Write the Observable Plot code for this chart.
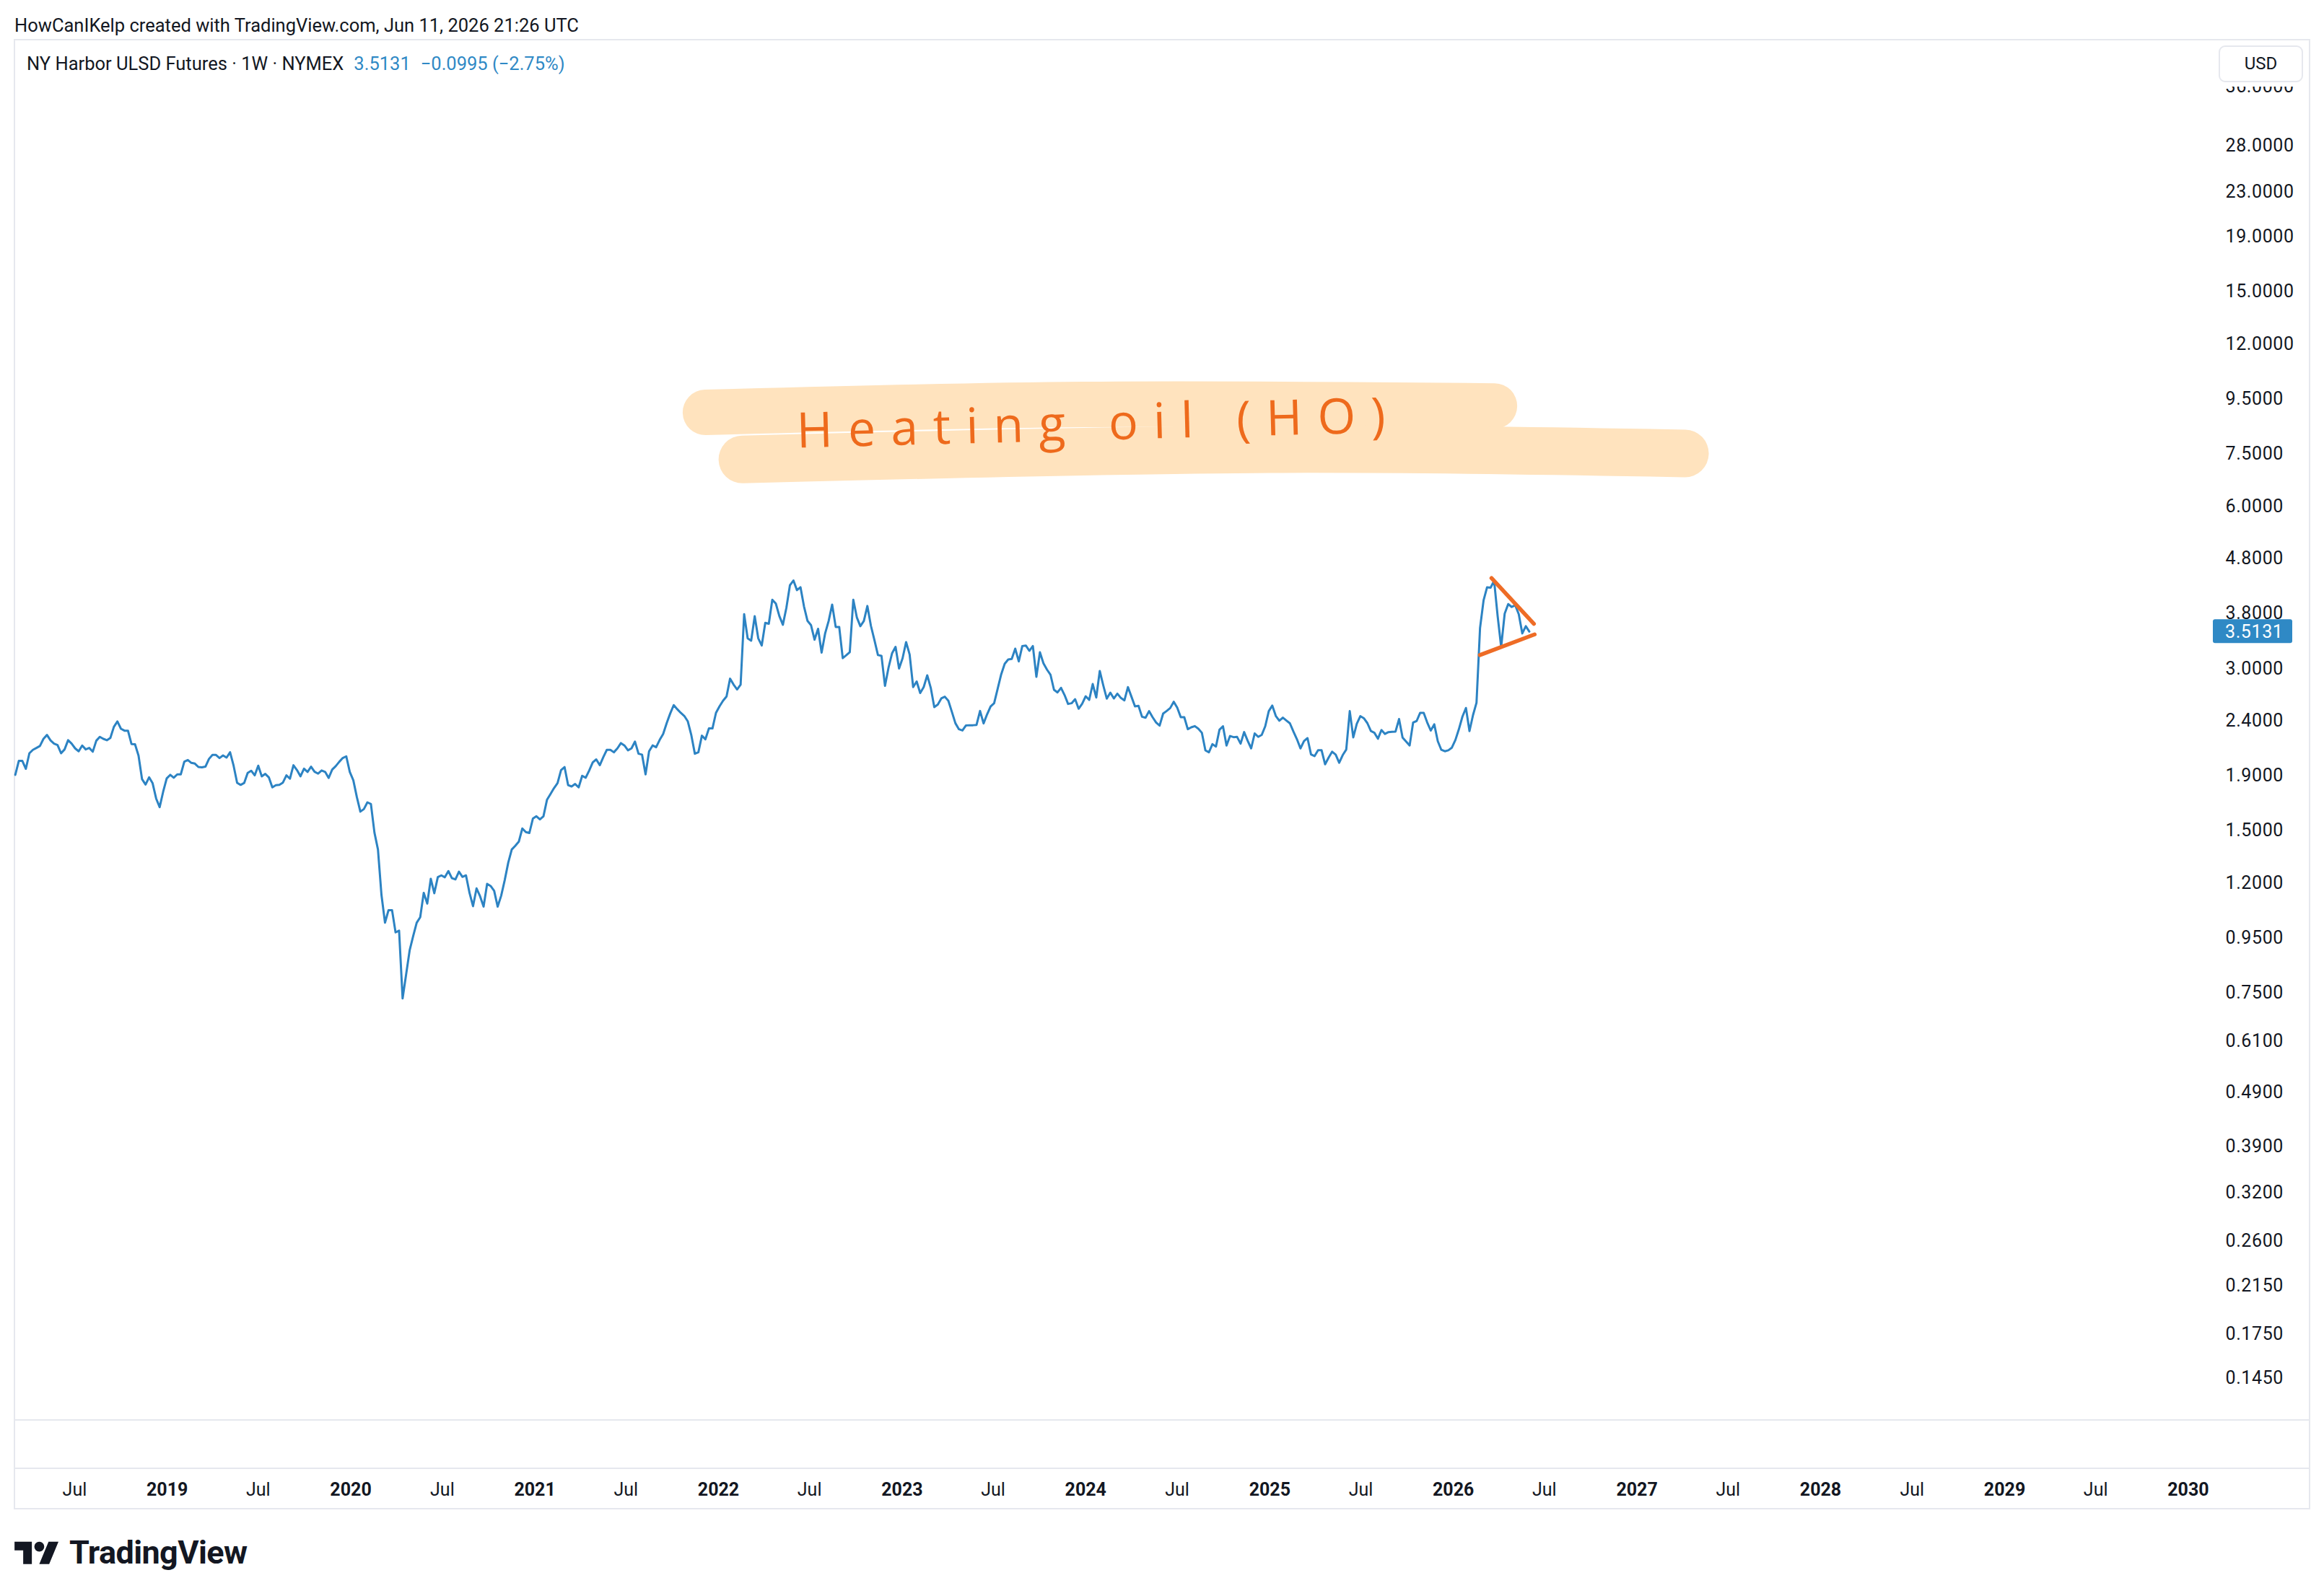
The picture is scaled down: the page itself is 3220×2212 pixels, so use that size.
<!DOCTYPE html>
<html><head><meta charset="utf-8">
<script src="https://cdn.jsdelivr.net/npm/d3@7"></script>
<script src="https://cdn.jsdelivr.net/npm/@observablehq/plot@0.6"></script>
<style>
html,body{margin:0;padding:0;background:#fff;}
body{width:3220px;height:2212px;position:relative;overflow:hidden;font-family:Roboto,"Noto Sans",sans-serif;color:#131722;}
.abs{position:absolute;}
</style></head><body>
<div class="abs" style="left:20px;top:20px;font-size:25.5px;line-height:30px;white-space:nowrap;">HowCanIKelp created with TradingView.com, Jun 11, 2026 21:26 UTC</div>
<div class="abs" style="left:19px;top:54px;width:3182px;height:2038px;border:2px solid #E6E8EE;box-sizing:border-box"></div>
<div class="abs" style="left:20px;top:1967px;width:3180px;height:2px;background:#E6E8EE"></div>
<div class="abs" style="left:20px;top:2034px;width:3180px;height:2px;background:#E6E8EE"></div>
<div id="chart" class="abs" style="left:20px;top:55px;"></div>
<div class="abs" id="legend" style="left:37px;top:73px;font-size:25.5px;line-height:30px;white-space:nowrap;"></div>
<div class="abs" style="left:3062px;top:57px;width:136px;height:63px;background:#fff"></div>
<div class="abs" style="left:3074px;top:63px;width:117px;height:51px;border:2px solid #E6E8EE;border-radius:9px;box-sizing:border-box;background:#fff;font-size:24px;line-height:47px;text-align:center;">USD</div>
<svg class="abs" style="left:20px;top:2130px" width="62" height="48" viewBox="0 0 36 28"><path d="M14 22H7V11H0V4h14v18zM28 22h-8l7.5-18h8L28 22z" fill="#131722"/><circle cx="20" cy="8" r="4" fill="#131722"/></svg>
<div class="abs" style="left:96px;top:2126px;font-size:45px;line-height:52px;font-weight:700;letter-spacing:-0.6px;white-space:nowrap;">TradingView</div>
<script>
// ---- data ----
const symbolName = "NY Harbor ULSD Futures · 1W · NYMEX";
const lastPrice = 3.5131;
const changeText = "−0.0995 (−2.75%)";
const startDate = new Date(Date.UTC(2018, 2, 5)); // first weekly bar
const prices = [
1.905,2.022,2.022,1.955,2.089,2.120,2.137,2.155,2.222,2.259,
2.207,2.177,2.164,2.089,2.124,2.209,2.177,2.133,2.107,2.159,
2.124,2.137,2.103,2.204,2.241,2.222,2.209,2.231,2.339,2.393,
2.320,2.301,2.301,2.173,2.171,2.068,1.870,1.828,1.885,1.838,
1.722,1.660,1.773,1.876,1.905,1.882,1.909,1.909,2.016,2.030,
2.005,1.999,1.970,1.967,1.973,2.039,2.074,2.074,2.047,2.070,
2.051,2.098,1.981,1.841,1.825,1.840,1.921,1.939,1.901,1.981,
1.893,1.913,1.885,1.806,1.823,1.825,1.843,1.901,1.874,1.985,
1.944,1.893,1.956,1.929,1.973,1.930,1.915,1.941,1.929,1.880,
1.948,1.977,2.014,2.047,2.062,1.929,1.862,1.733,1.628,1.646,
1.694,1.682,1.489,1.385,1.140,1.013,1.069,1.069,0.972,0.979,
0.733,0.812,0.900,0.957,1.013,1.037,1.151,1.099,1.222,1.149,
1.231,1.240,1.230,1.263,1.225,1.219,1.260,1.232,1.240,1.151,
1.087,1.173,1.134,1.085,1.196,1.185,1.161,1.085,1.137,1.215,
1.309,1.385,1.407,1.432,1.515,1.492,1.486,1.580,1.596,1.575,
1.596,1.712,1.755,1.800,1.839,1.944,1.969,1.824,1.813,1.832,
1.806,1.897,1.882,1.941,2.009,2.035,1.985,2.055,2.120,2.120,
2.098,2.133,2.182,2.160,2.116,2.133,2.196,2.085,2.077,1.909,
2.107,2.160,2.144,2.211,2.269,2.376,2.476,2.566,2.522,2.483,
2.450,2.394,2.257,2.085,2.098,2.252,2.218,2.323,2.323,2.483,
2.553,2.614,2.663,2.873,2.801,2.744,2.801,3.784,3.412,3.380,
3.753,3.415,3.311,3.647,3.632,4.025,3.960,3.753,3.617,3.891,
4.281,4.370,4.194,4.246,3.911,3.677,3.610,3.394,3.555,3.211,
3.486,3.677,3.943,3.584,3.584,3.136,3.175,3.218,4.025,3.734,
3.595,3.677,3.919,3.602,3.387,3.178,3.168,2.786,3.010,3.201,
3.291,3.001,3.136,3.359,3.185,2.772,2.839,2.702,2.772,2.915,
2.763,2.545,2.572,2.641,2.660,2.614,2.493,2.375,2.315,2.303,
2.353,2.355,2.355,2.358,2.503,2.373,2.467,2.552,2.587,2.751,
2.926,3.062,3.119,3.125,3.266,3.093,3.303,3.310,3.236,3.303,
2.896,3.216,3.068,2.987,2.923,2.740,2.709,2.763,2.679,2.579,
2.587,2.632,2.527,2.581,2.665,2.624,2.808,2.651,2.969,2.791,
2.638,2.706,2.640,2.695,2.646,2.619,2.771,2.660,2.552,2.558,
2.442,2.432,2.501,2.437,2.383,2.351,2.475,2.503,2.534,2.603,
2.539,2.437,2.437,2.315,2.334,2.346,2.320,2.280,2.115,2.098,
2.172,2.150,2.310,2.344,2.159,2.249,2.238,2.240,2.177,2.287,
2.204,2.133,2.274,2.241,2.260,2.345,2.501,2.561,2.450,2.401,
2.433,2.403,2.374,2.292,2.218,2.133,2.200,2.229,2.079,2.064,
2.116,2.116,1.993,2.051,2.103,2.077,2.006,2.073,2.122,2.501,
2.236,2.369,2.448,2.426,2.376,2.297,2.280,2.223,2.307,2.269,
2.287,2.290,2.292,2.418,2.234,2.196,2.160,2.383,2.398,2.483,
2.483,2.383,2.302,2.364,2.200,2.120,2.107,2.116,2.140,2.211,
2.316,2.443,2.535,2.297,2.458,2.593,3.566,4.013,4.246,4.238,
4.366,3.753,3.291,3.793,3.951,3.903,3.931,3.784,3.486,3.595,
3.5131
];
const priceTicks = [0.145,0.175,0.215,0.26,0.32,0.39,0.49,0.61,0.75,0.95,1.2,1.5,1.9,2.4,3.0,3.8,4.8,6.0,7.5,9.5,12,15,19,23,28,36];
const yearTicks = [2019,2020,2021,2022,2023,2024,2025,2026,2027,2028,2029,2030];
const julyTickYears = [2018,2019,2020,2021,2022,2023,2024,2025,2026,2027,2028,2029];
const julyLabel = "Jul";
const xDomain = ["2018-03-04", "2030-03-16"];
const yDomain = [0.1209, 43.97];
// drawings (week offset from startDate, price)
const trendUpperWeeks = [419.25, 431.3], trendUpperPrices = [4.415, 3.632];
const trendLowerWeeks = [415.97, 431.5], trendLowerPrices = [3.178, 3.471];
const bandUpperWeeks = [196.0, 303.3, 420.1], bandUpperPrices = [8.96, 9.27, 9.21];
const bandLowerWeeks = [206.5, 356.7, 474.2], bandLowerPrices = [7.33, 7.66, 7.52];
const noteText = "Heating oil (HO)";
const noteWeek = 221.9, notePrice = 8.24;

// ---- build ----
const wk = k => new Date(startDate.getTime() + k * 7 * 86400000);
const series = prices.map((p, i) => ({date: wk(i), price: p}));
const pts = (ws, ps) => ws.map((w, i) => ({date: wk(w), price: ps[i]}));
const trendUpper = pts(trendUpperWeeks, trendUpperPrices);
const trendLower = pts(trendLowerWeeks, trendLowerPrices);
const bandUpper = pts(bandUpperWeeks, bandUpperPrices);
const bandLower = pts(bandLowerWeeks, bandLowerPrices);
const note = [{date: wk(noteWeek), price: notePrice, label: noteText}];
const yearDates = yearTicks.map(y => new Date(Date.UTC(y, 0, 1)));
const julDates = julyTickYears.map(y => new Date(Date.UTC(y, 6, 1)));

const W = 3180, H = 2036, MR = 117, MB = 123;
const blue = "#2C83C3", orange = "#EE6C26", peach = "#FFE3BE";

const chart = Plot.plot({
  width: W, height: H,
  marginLeft: 0, marginRight: MR, marginTop: 0, marginBottom: MB,
  style: {fontFamily: "Roboto, sans-serif", fontSize: "25px", color: "#131722", background: "transparent", overflow: "visible"},
  x: {type: "utc", domain: xDomain.map(d => new Date(d)), label: null},
  y: {type: "log", domain: yDomain, label: null, axis: null},
  marks: [
    Plot.line(bandUpper, {x: "date", y: "price", stroke: peach, strokeWidth: 63, strokeLinecap: "round", curve: "catmull-rom"}),
    Plot.line(bandLower, {x: "date", y: "price", stroke: peach, strokeWidth: 66, strokeLinecap: "round", curve: "catmull-rom"}),
    Plot.text(note, {x: "date", y: "price", text: "label", textAnchor: "start", rotate: -1.5, fontSize: 68, fontFamily: "Open Sans, sans-serif", fill: "#EE6A1C"}),
    Plot.line(series, {x: "date", y: "price", stroke: blue, strokeWidth: 3, strokeLinejoin: "round"}),
    Plot.line(trendUpper, {x: "date", y: "price", stroke: orange, strokeWidth: 5.5, strokeLinecap: "round"}),
    Plot.line(trendLower, {x: "date", y: "price", stroke: orange, strokeWidth: 5.5, strokeLinecap: "round"}),
    // price scale labels (left-aligned, just right of the pane)
    Plot.text(priceTicks, {y: d => d, text: d => d.toFixed(4), frameAnchor: "right", textAnchor: "start", fontSize: 25, fill: "#131722"}),
    Plot.axisX({anchor: "bottom", ticks: yearDates, tickFormat: d => String(d.getUTCFullYear()), tickSize: 0, tickPadding: 87, fontWeight: "bold", fontSize: 25, label: null}),
    Plot.axisX({anchor: "bottom", ticks: julDates, tickFormat: () => julyLabel, tickSize: 0, tickPadding: 87, fontSize: 25, label: null})
  ]
});
document.getElementById("chart").appendChild(chart);

// letter spacing on price labels
d3.select(chart).selectAll("text").filter(function(){ return /^\d+\.\d{4}$/.test(this.textContent); })
  .attr("letter-spacing", "0.6px");

// stretch handwritten note to its drawn width
d3.select(chart).selectAll("text").filter(function(){ return this.textContent === noteText; })
  .attr("textLength", 816).attr("lengthAdjust", "spacing");

// last price badge on the price scale
const yy = chart.scale("y").apply(lastPrice);
const fr = W - MR;
const g = d3.select(chart).append("g").attr("text-anchor", "start");
g.append("rect").attr("x", fr - 17).attr("y", yy - 16.5).attr("width", 110).attr("height", 33).attr("rx", 3).attr("fill", "#2F89C5");
g.append("text").attr("x", fr).attr("y", yy).attr("dy", "0.36em").attr("fill", "#fff").attr("font-size", 25).attr("letter-spacing", "0.6px").attr("font-family", "Roboto, sans-serif").text(lastPrice.toFixed(4));

// legend
const lg = document.getElementById("legend");
lg.innerHTML = `<span>${symbolName}</span><span style="color:#2F89C5;margin-left:14px">${lastPrice.toFixed(4)}</span><span style="color:#2F89C5;margin-left:14px">${changeText}</span>`;
</script>
</body></html>
